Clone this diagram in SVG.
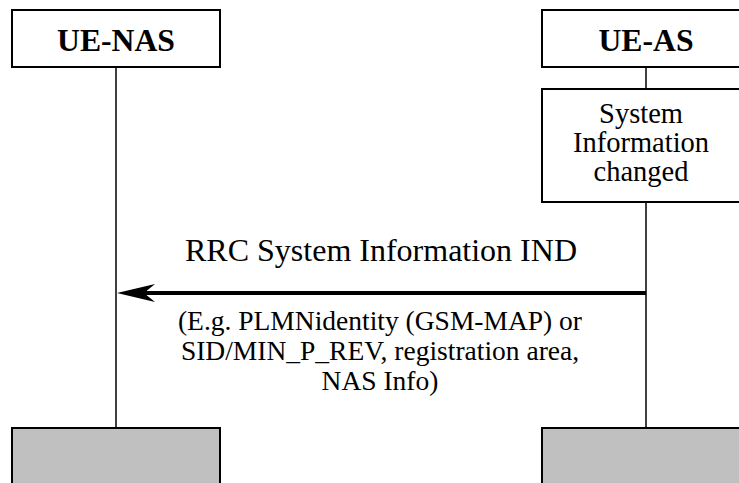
<svg xmlns="http://www.w3.org/2000/svg" width="739" height="483" viewBox="0 0 739 483">
<style>
.box{fill:#fff;stroke:#000;stroke-width:2}
.end{fill:#c0c0c0;stroke:#000;stroke-width:2}
.life{stroke:#000;stroke-width:1.5;fill:none}
.t{font-family:"Liberation Serif","Times New Roman",serif;fill:#000;text-anchor:middle}
.h{font-size:31.7px;font-weight:bold}
.s{font-size:28.5px}
.n{font-size:27.5px}
.m{font-size:32px}
</style>
<g id="connectors">
<line class="life" x1="116" y1="67" x2="116" y2="428"/>
<line class="life" x1="646" y1="67" x2="646" y2="428"/>
<line x1="646" y1="293" x2="135" y2="293" stroke="#000" stroke-width="4"/>
<path d="M117,293 L155,284 L144,293 L155,302 Z" fill="#000"/>
<text class="t m" x="381" y="261">RRC System Information IND</text>
<text class="t n" x="380" y="330">(E.g. PLMNidentity (GSM-MAP) or</text>
<text class="t n" x="380" y="360">SID/MIN_P_REV, registration area,</text>
<text class="t n" x="380" y="390">NAS Info)</text>
</g>
<g id="ue-nas">
<rect class="box" x="12" y="10" width="208" height="57"/>
<text class="t h" x="116" y="51">UE-NAS</text>
</g>
<g id="ue-as">
<rect class="box" x="542" y="10" width="210" height="57"/>
<text class="t h" x="646" y="51">UE-AS</text>
</g>
<g id="sysinfo">
<rect class="box" x="542" y="89" width="210" height="113"/>
<text class="t s" x="641" y="123">System</text>
<text class="t s" x="641" y="152">Information</text>
<text class="t s" x="641" y="181">changed</text>
</g>
<g id="nas-end">
<rect class="end" x="12" y="428" width="208" height="60"/>
</g>
<g id="as-end">
<rect class="end" x="542" y="428" width="210" height="60"/>
</g>
</svg>
